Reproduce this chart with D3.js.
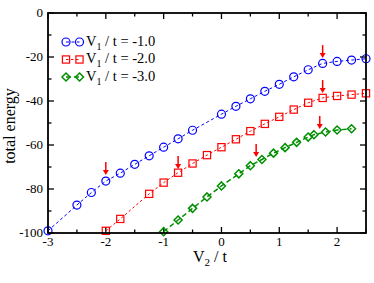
<!doctype html>
<html lang="en">
  <head>
    <meta charset="utf-8">
    <title>total energy vs V2/t</title>
    <script src="https://d3js.org/d3.v7.min.js"></script>
    <style>
      body { margin: 0; background: #fff; }
      svg { display: block; font-family: 'Liberation Serif', 'Times New Roman', serif; }
    </style>
  </head>
  <body>
    <div class="visual"></div>
  <script>
    // data
    const blueX = [-3, -2.5, -2.25, -2, -1.75, -1.5, -1.25, -1, -0.75, -0.5, 0, 0.25, 0.5, 0.75, 1, 1.25, 1.5, 1.75, 2, 2.25, 2.5];
    const blueY = [-99, -87.3, -81.6, -76.4, -72.8, -68.8, -64.9, -61, -57.2, -53.3, -46, -42.4, -39, -35.6, -32.4, -29, -25.8, -22.9, -22, -21.4, -20.8];
    const redX = [-2, -1.75, -1.25, -1, -0.75, -0.5, -0.25, 0, 0.25, 0.5, 0.75, 1, 1.25, 1.5, 1.75, 2, 2.25, 2.5];
    const redY = [-99, -93.6, -82.2, -77.1, -72.6, -68.4, -64.6, -61, -57.4, -53.7, -50.4, -47.2, -43.9, -40.8, -38.6, -37.7, -37.1, -36.5];
    const greenX = [-1, -0.75, -0.5, -0.25, 0, 0.3, 0.5, 0.7, 0.9, 1.1, 1.3, 1.5, 1.6, 1.8, 2.0, 2.25];
    const greenY = [-99.4, -94.1, -88.8, -83.6, -78.6, -73.1, -69.4, -66.6, -63.7, -61.2, -58.8, -56.4, -55.3, -54.1, -53.2, -52.6];
    const seriesNames = ['-1.0', '-2.0', '-3.0'];
    // arrow positions (x, tip value)
    const arrowX = [-2, -0.75, 0.6, 1.75, 1.75, 1.7];
    const arrowY = [-73.6, -70.9, -65.5, -20.5, -36.4, -52.7];
    const xTicks = [-3, -2, -1, 0, 1, 2];
    const yTicks = [0, -20, -40, -60, -80, -100];

    const w = 374, h = 283;
    const margin = { top: 13, right: 8, bottom: 50, left: 48 };

    const svg = d3.select('.visual')
      .append('svg')
      .attr('width', w)
      .attr('height', h);

    const x = d3.scaleLinear().domain([-3, 2.5]).range([margin.left, w - margin.right]);
    const y = d3.scaleLinear().domain([-100, 0]).range([h - margin.bottom, margin.top]);

    const x0 = x.range()[0], x1 = x.range()[1], y0 = y.range()[0], y1 = y.range()[1];

    // ticks on all four sides, pointing inward
    const xMinor = d3.range(-3, 2.51, 0.5);
    const yMinor = d3.range(-100, 0.1, 10);
    const ticks = svg.append('g').attr('stroke', '#000').attr('stroke-width', 1.3);
    xMinor.forEach(v => {
      const len = Number.isInteger(v) ? 6 : 3.5;
      ticks.append('line').attr('x1', x(v)).attr('x2', x(v)).attr('y1', y0).attr('y2', y0 - len);
      ticks.append('line').attr('x1', x(v)).attr('x2', x(v)).attr('y1', y1).attr('y2', y1 + len);
    });
    yMinor.forEach(v => {
      const len = (v % 20 === 0) ? 6 : 3.5;
      ticks.append('line').attr('y1', y(v)).attr('y2', y(v)).attr('x1', x0).attr('x2', x0 + len);
      ticks.append('line').attr('y1', y(v)).attr('y2', y(v)).attr('x1', x1).attr('x2', x1 - len);
    });

    // tick labels
    svg.append('g').selectAll('text')
      .data(xTicks).enter().append('text')
      .attr('x', d => x(d)).attr('y', y0 + 13)
      .attr('text-anchor', 'middle')
      .attr('font-size', '13px')
      .text(d => d);
    svg.append('g').selectAll('text')
      .data(yTicks).enter().append('text')
      .attr('x', x0 - 5).attr('y', d => y(d) + 4)
      .attr('text-anchor', 'end')
      .attr('font-size', '13px')
      .text(d => d);

    // axis titles
    svg.append('text')
      .attr('transform', 'translate(15,126) rotate(-90)')
      .attr('text-anchor', 'middle')
      .attr('font-size', '16px')
      .text('total energy');
    const xt = svg.append('text')
      .attr('x', 210).attr('y', 262)
      .attr('text-anchor', 'middle')
      .attr('font-size', '16px');
    xt.append('tspan').text('V');
    xt.append('tspan').attr('font-size', '11px').attr('dy', 4).text('2');
    xt.append('tspan').attr('dy', -4).text(' / t');

    const series = [
      { xs: blueX, ys: blueY, color: '#0000ff', dash: '3,2.5', width: 1, shape: 'circle' },
      { xs: redX, ys: redY, color: '#ff0000', dash: '2.5,2.5', width: 1, shape: 'square' },
      { xs: greenX, ys: greenY, color: '#008f00', dash: '5,3', width: 1.5, shape: 'diamond' }
    ];

    const line = d3.line().x(d => x(d[0])).y(d => y(d[1]));

    function marker(g, shape, color, cx, cy) {
      if (shape === 'circle') {
        g.append('circle').attr('cx', cx).attr('cy', cy).attr('r', 4)
          .attr('fill', 'none').attr('stroke', color).attr('stroke-width', 1.2);
      } else if (shape === 'square') {
        g.append('rect').attr('x', cx - 3.6).attr('y', cy - 3.6).attr('width', 7.2).attr('height', 7.2)
          .attr('fill', 'none').attr('stroke', color).attr('stroke-width', 1.2);
      } else {
        const s = 4;
        g.append('path')
          .attr('d', `M${cx},${cy - s}L${cx + s},${cy}L${cx},${cy + s}L${cx - s},${cy}Z`)
          .attr('fill', 'none').attr('stroke', color).attr('stroke-width', 1.5);
      }
    }

    const plot = svg.append('g');
    series.forEach(s => {
      const pts = s.xs.map((v, i) => [v, s.ys[i]]);
      plot.append('path')
        .attr('d', line(pts))
        .attr('fill', 'none')
        .attr('stroke', s.color)
        .attr('stroke-width', s.width)
        .attr('stroke-dasharray', s.dash);
      pts.forEach(p => marker(plot, s.shape, s.color, x(p[0]), y(p[1])));
    });

    // red arrows
    const arrows = svg.append('g');
    arrowX.forEach((v, i) => {
      const ax = x(v), tip = y(arrowY[i]);
      arrows.append('line')
        .attr('x1', ax).attr('x2', ax).attr('y1', tip - 13).attr('y2', tip - 4)
        .attr('stroke', '#ff0000').attr('stroke-width', 1.5);
      arrows.append('path')
        .attr('d', `M${ax - 3},${tip - 5}L${ax + 3},${tip - 5}L${ax},${tip}Z`)
        .attr('fill', '#ff0000');
    });

    // frame
    svg.append('rect')
      .attr('x', x0).attr('y', y1)
      .attr('width', x1 - x0).attr('height', y0 - y1)
      .attr('fill', 'none').attr('stroke', '#000').attr('stroke-width', 1.8);

    // legend
    const legend = svg.append('g');
    series.forEach((s, i) => {
      const ly = 42 + i * 17.5;
      legend.append('line')
        .attr('x1', 66).attr('x2', 79.5).attr('y1', ly).attr('y2', ly)
        .attr('stroke', s.color).attr('stroke-width', s.width)
        .attr('stroke-dasharray', s.dash);
      marker(legend, s.shape, s.color, 66, ly);
      marker(legend, s.shape, s.color, 79.5, ly);
      const t = legend.append('text')
        .attr('x', 86).attr('y', ly + 3.5)
        .attr('font-size', '14.5px');
      t.append('tspan').text('V');
      t.append('tspan').attr('font-size', '10px').attr('dy', 4).text('1');
      t.append('tspan').attr('dy', -4).text(' / t = ' + seriesNames[i]);
    });
  </script>
  </body>
</html>
